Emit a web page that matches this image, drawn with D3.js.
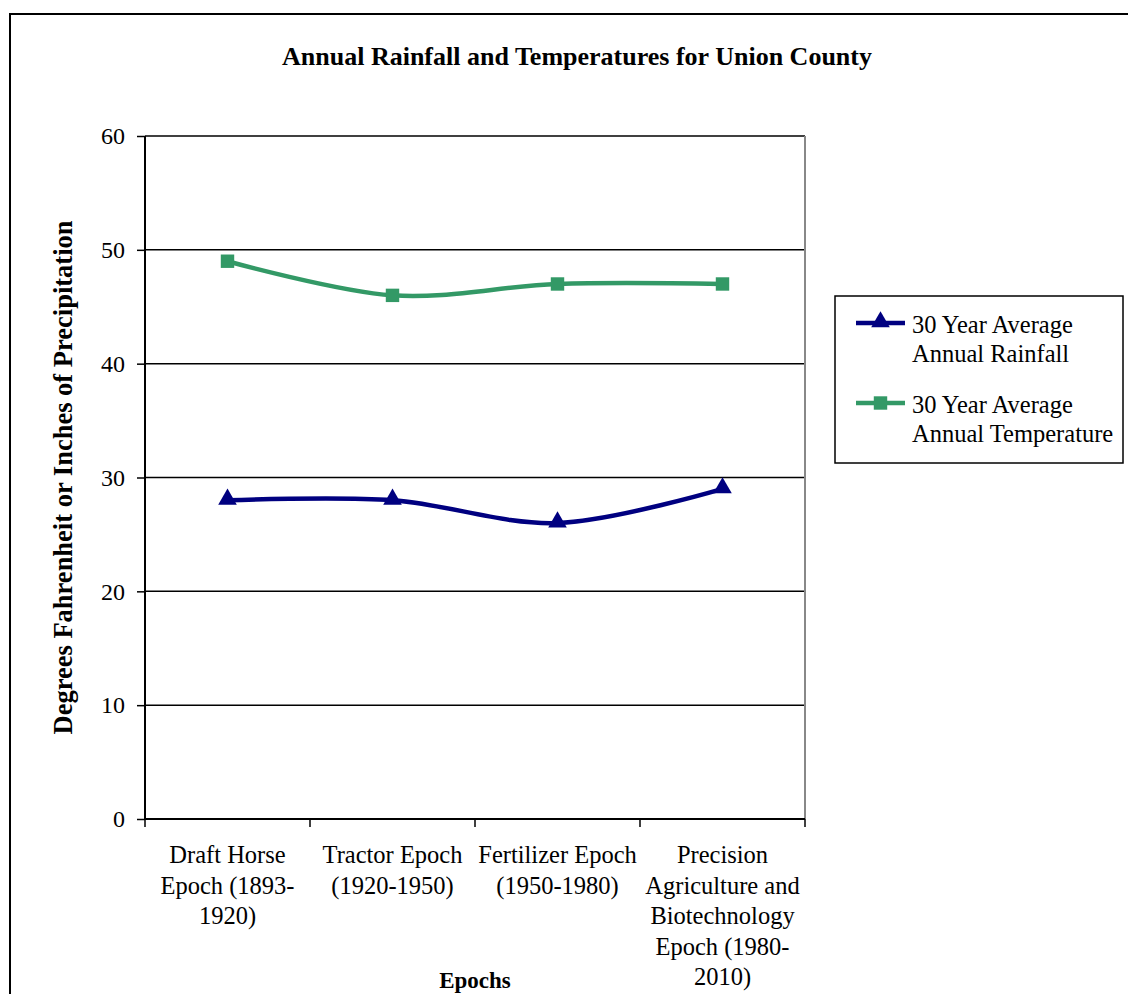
<!DOCTYPE html>
<html><head><meta charset="utf-8">
<script src="https://cdn.jsdelivr.net/npm/d3@7"></script>
<style>body{margin:0;background:#fff}svg{display:block}text{font-family:"Liberation Serif","Times New Roman",serif}</style>
</head><body><svg id="c" width="1128" height="994"></svg>
<script>
const categories = ["Draft Horse\nEpoch (1893-\n1920)", "Tractor Epoch\n(1920-1950)", "Fertilizer Epoch\n(1950-1980)", "Precision\nAgriculture and\nBiotechnology\nEpoch (1980-\n2010)"];
const rainfall = [28, 28, 26, 29];
const temperature = [49, 46, 47, 47];
const yTicks = [0, 10, 20, 30, 40, 50, 60];
const seriesNames = [["30 Year Average", "Annual Rainfall"], ["30 Year Average", "Annual Temperature"]];
const title = "Annual Rainfall and Temperatures for Union County";
const yTitle = "Degrees Fahrenheit or Inches of Precipitation";
const xTitle = "Epochs";

const svg = d3.select("#c");
const L = 145, R = 805, T = 136, B = 819;
const x = d3.scaleBand().domain(d3.range(categories.length)).range([L, R]);
const y = d3.scaleLinear().domain([0, 60]).range([B, T]);

// outer border
svg.append("rect").attr("x", 10).attr("y", 14).attr("width", 1130).attr("height", 1000)
  .attr("fill", "none").attr("stroke", "#000").attr("stroke-width", 2);

// title
svg.append("text").attr("x", 577).attr("y", 65).attr("text-anchor", "middle")
  .attr("font-size", 26).attr("font-weight", "bold").text(title);

// gridlines
svg.append("g").selectAll("line").data(yTicks.filter(d => d > 0)).join("line")
  .attr("x1", L).attr("x2", R).attr("y1", d => y(d)).attr("y2", d => y(d))
  .attr("stroke", "#000").attr("stroke-width", 1.5);
// right plot border
svg.append("line").attr("x1", R).attr("x2", R).attr("y1", T).attr("y2", B)
  .attr("stroke", "#888").attr("stroke-width", 2);

// y axis
const yAxis = svg.append("g").attr("transform", `translate(${L},0)`)
  .call(d3.axisLeft(y).tickValues(yTicks).tickSize(8).tickPadding(12));
yAxis.select(".domain").attr("stroke", "#000").attr("stroke-width", 2).attr("d", `M0,${T}V${B}`);
yAxis.selectAll(".tick line").attr("stroke", "#000").attr("stroke-width", 1.5);
yAxis.selectAll("text").attr("font-size", 24).attr("font-family", "Liberation Serif").attr("fill", "#000");

// x axis
const xAxis = svg.append("g").attr("transform", `translate(0,${B})`)
  .call(d3.axisBottom(x).tickSize(0).tickFormat(""));
xAxis.select(".domain").attr("stroke", "#000").attr("stroke-width", 2).attr("d", `M${L},0H${R}`);
const bounds = d3.range(categories.length + 1).map(i => L + i * x.bandwidth());
xAxis.selectAll(".bt").data(bounds).join("line").attr("class", "bt")
  .attr("x1", d => d).attr("x2", d => d).attr("y1", 0).attr("y2", 8)
  .attr("stroke", "#000").attr("stroke-width", 1.5);
const labels = svg.append("g").selectAll("text").data(categories).join("text")
  .attr("text-anchor", "middle").attr("font-size", 24.5).attr("fill", "#000")
  .attr("transform", (d, i) => `translate(${x(i) + x.bandwidth() / 2},863)`);
labels.selectAll("tspan").data(d => d.split("\n")).join("tspan")
  .attr("x", 0).attr("y", (d, i) => i * 30.5).text(d => d);

// axis titles
svg.append("text").attr("transform", `translate(72,${(T + B) / 2}) rotate(-90)`)
  .attr("text-anchor", "middle").attr("font-size", 26.5).attr("font-weight", "bold").text(yTitle);
svg.append("text").attr("x", (L + R) / 2).attr("y", 988).attr("text-anchor", "middle")
  .attr("font-size", 23).attr("font-weight", "bold").text(xTitle);

// series
const colors = ["#000080", "#339966"];
const series = [rainfall, temperature];
const line = d3.line().x((d, i) => x(i) + x.bandwidth() / 2).y(d => y(d)).curve(d3.curveCatmullRom.alpha(0));
series.forEach((s, k) => {
  svg.append("path").datum(s).attr("d", line).attr("fill", "none")
    .attr("stroke", colors[k]).attr("stroke-width", 4.5);
});
const tri = d3.symbol().type(d3.symbolTriangle).size(150);
const sq = d3.symbol().type(d3.symbolSquare).size(180);
svg.append("g").selectAll("path").data(rainfall).join("path")
  .attr("transform", (d, i) => `translate(${x(i) + x.bandwidth() / 2},${y(d) - 1})`)
  .attr("d", tri).attr("fill", colors[0]);
svg.append("g").selectAll("path").data(temperature).join("path")
  .attr("transform", (d, i) => `translate(${x(i) + x.bandwidth() / 2},${y(d)})`)
  .attr("d", sq).attr("fill", colors[1]);

// legend
const lg = svg.append("g");
lg.append("rect").attr("x", 835).attr("y", 296).attr("width", 288).attr("height", 167)
  .attr("fill", "#fff").attr("stroke", "#000").attr("stroke-width", 1.5);
const ly = [323, 403];
seriesNames.forEach((nm, k) => {
  lg.append("line").attr("x1", 856).attr("x2", 905).attr("y1", ly[k]).attr("y2", ly[k])
    .attr("stroke", colors[k]).attr("stroke-width", 4.5);
  lg.append("path").attr("transform", `translate(880.5,${ly[k] - (k === 0 ? 1 : 0)})`)
    .attr("d", k === 0 ? tri : sq).attr("fill", colors[k]);
  const t = lg.append("text").attr("x", 912).attr("y", ly[k] + 10).attr("font-size", 24.5).attr("fill", "#000");
  nm.forEach((s, j) => t.append("tspan").attr("x", 912).attr("y", ly[k] + 10 + j * 29).text(s));
});
</script></body></html>
